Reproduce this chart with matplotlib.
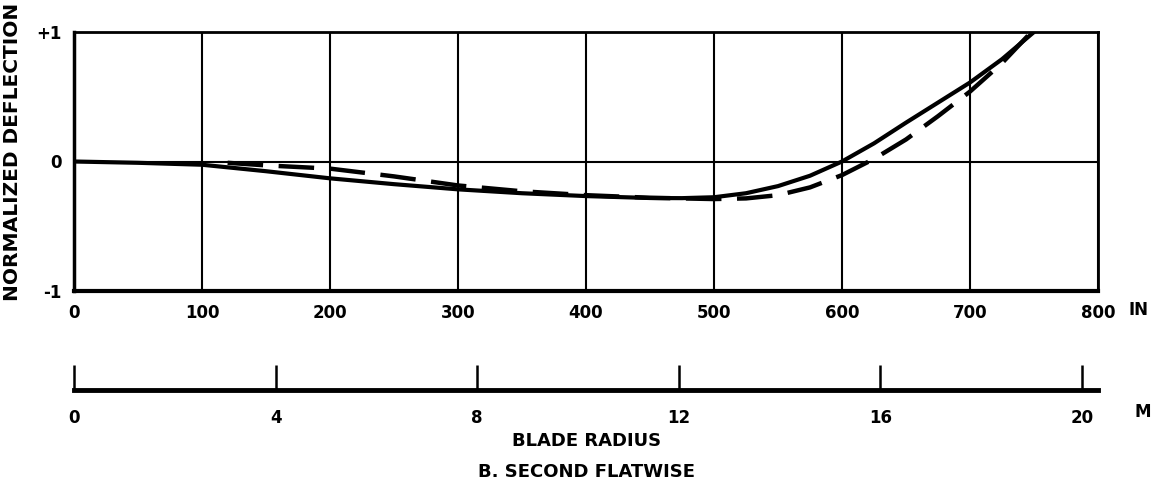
import numpy as np
import matplotlib
matplotlib.use("Agg")
import matplotlib.pyplot as plt

# blade radius stations (in) and normalized deflection, second flatwise mode
r_solid = [0, 50, 100, 150, 200, 250, 300, 350, 400, 450, 475, 500, 525,
           550, 575, 600, 625, 650, 675, 700, 725, 750]
d_solid = [0.0, -0.01, -0.025, -0.075, -0.13, -0.175, -0.215, -0.245,
           -0.267, -0.282, -0.283, -0.276, -0.245, -0.19, -0.11, 0.0, 0.14,
           0.30, 0.455, 0.61, 0.79, 1.0]

r_dash = [120, 150, 200, 250, 300, 350, 400, 450, 500, 525, 550, 575, 600,
          625, 650, 675, 700, 725, 748]
d_dash = [-0.01, -0.03, -0.055, -0.115, -0.185, -0.23, -0.26, -0.28, -0.29,
          -0.285, -0.26, -0.20, -0.105, 0.02, 0.17, 0.35, 0.54, 0.76, 1.0]

in_ticks = [0, 100, 200, 300, 400, 500, 600, 700, 800]
m_ticks = [0, 4, 8, 12, 16, 20]
y_ticks = [-1, 0, 1]
y_labels = ["-1", "0", "+1"]

W, H = 1155, 487
fig = plt.figure(figsize=(W / 100, H / 100), dpi=100)
fig.patch.set_facecolor("white")

L, R = 74, 1098
ax = fig.add_axes([L / W, (H - 291) / H, (R - L) / W, (291 - 32) / H])
ax.plot(r_solid, d_solid, color="black", lw=3.0, solid_capstyle="round",
        solid_joinstyle="round")
ax.plot(r_dash, d_dash, color="black", lw=3.2, dashes=(8, 3.5))

ax.set_xlim(0, 800)
ax.set_ylim(-1, 1)
ax.set_xticks(in_ticks)
ax.set_xticklabels([str(t) for t in in_ticks], fontweight="bold", fontsize=12)
ax.set_yticks(y_ticks)
ax.set_yticklabels(y_labels, fontweight="bold", fontsize=12)
ax.tick_params(axis="both", length=0, pad=9)
ax.grid(True, color="black", lw=1.5)
for side, s in ax.spines.items():
    s.set_linewidth(2.0)
ax.spines["bottom"].set_linewidth(3.0)
ax.spines["left"].set_linewidth(2.5)

fig.text(1128 / W, (H - 310) / H, "IN", fontweight="bold", fontsize=12,
         ha="left", va="center")
fig.text(13 / W, (H - 152) / H, "NORMALIZED DEFLECTION", rotation=90,
         fontweight="bold", fontsize=14.5, ha="center", va="center")

# metric scale underneath
ax2 = fig.add_axes([L / W, (H - 390) / H, (R - L) / W, 0.001])
ax2.set_xlim(0, 800 * 0.0254)
ax2.set_ylim(0, 1)
ax2.set_yticks([])
ax2.set_xticks(m_ticks)
ax2.set_xticklabels([str(t) for t in m_ticks], fontweight="bold", fontsize=12)
ax2.tick_params(axis="x", direction="in", length=18, width=1.8, pad=14)
for side in ["top", "left", "right"]:
    ax2.spines[side].set_visible(False)
ax2.spines["bottom"].set_linewidth(3.5)
ax2.patch.set_alpha(0)

fig.text(1143 / W, (H - 412) / H, "M", fontweight="bold", fontsize=12,
         ha="center", va="center")
fig.text(587 / W, (H - 441) / H, "BLADE RADIUS", fontweight="bold",
         fontsize=13, ha="center", va="center")
fig.text(587 / W, (H - 472) / H, "B. SECOND FLATWISE", fontweight="bold",
         fontsize=13, ha="center", va="center")

fig.savefig("out.png", dpi=100)
